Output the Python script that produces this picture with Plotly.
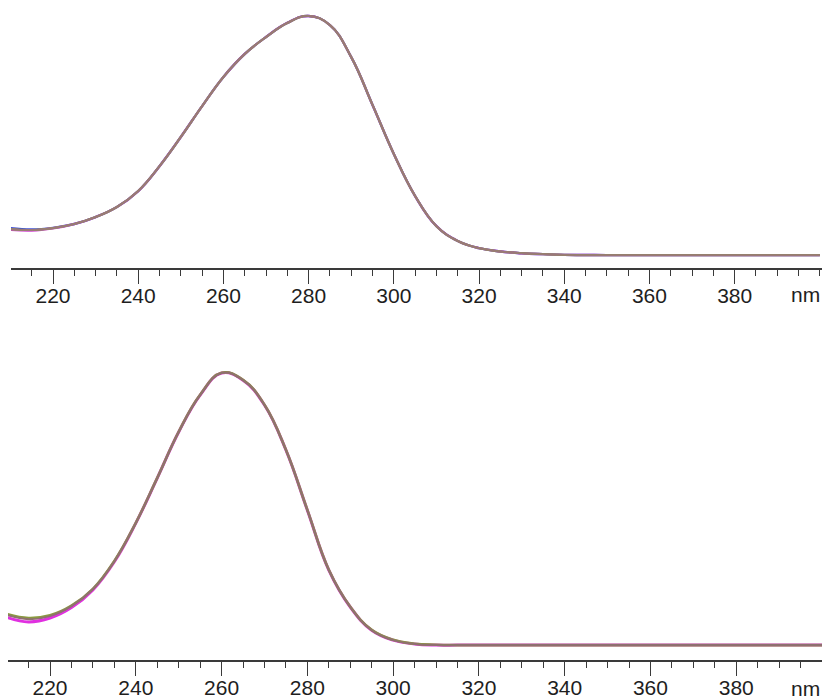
import plotly.graph_objects as go

# Wavelengths (nm)
wavelength = [210, 215, 220, 225, 230, 235, 240, 245, 250, 255, 260, 265, 270, 275,
              280, 285, 290, 295, 300, 305, 310, 315, 320, 325, 330, 335, 340, 350,
              360, 370, 380, 390, 400]

# Upper spectrum (absorbance, normalised)
top_main = [0.109, 0.105, 0.113, 0.130, 0.159, 0.201, 0.268, 0.372, 0.494, 0.623, 0.745,
            0.841, 0.912, 0.971, 1.000, 0.962, 0.828, 0.628, 0.423, 0.247, 0.121, 0.059,
            0.029, 0.015, 0.008, 0.004, 0.001, 0.000, 0.000, 0.000, 0.000, 0.000, 0.000]
top_blue = [0.113, 0.107, 0.114, 0.130, 0.159, 0.201, 0.268, 0.372, 0.494, 0.623, 0.745,
            0.841, 0.912, 0.971, 1.000, 0.962, 0.828, 0.628, 0.423, 0.247, 0.121, 0.059,
            0.029, 0.015, 0.008, 0.004, 0.001, 0.000, 0.000, 0.000, 0.000, 0.000, 0.000]
top_magenta = [0.106, 0.103, 0.112, 0.130, 0.159, 0.201, 0.268, 0.372, 0.494, 0.623, 0.745,
               0.841, 0.912, 0.971, 1.000, 0.962, 0.828, 0.628, 0.423, 0.247, 0.121, 0.059,
               0.029, 0.015, 0.008, 0.004, 0.001, 0.000, 0.000, 0.000, 0.000, 0.000, 0.000]

# Lower spectrum (absorbance, normalised)
bottom_main = [0.109, 0.094, 0.105, 0.141, 0.203, 0.304, 0.442, 0.605, 0.772, 0.906, 0.986,
               0.960, 0.870, 0.707, 0.489, 0.272, 0.138, 0.054, 0.018, 0.004, 0.000, 0.000,
               0.000, 0.000, 0.000, 0.000, 0.000, 0.000, 0.000, 0.000, 0.000, 0.000, 0.000]
bottom_magenta = [0.100, 0.084, 0.098, 0.136, 0.200, 0.302, 0.442, 0.605, 0.772, 0.906, 0.986,
                  0.960, 0.870, 0.707, 0.489, 0.272, 0.138, 0.054, 0.018, 0.004, 0.000, 0.000,
                  0.000, 0.000, 0.000, 0.000, 0.000, 0.000, 0.000, 0.000, 0.000, 0.000, 0.000]
bottom_green = [0.112, 0.098, 0.108, 0.143, 0.204, 0.305, 0.443, 0.606, 0.773, 0.907, 0.987,
                0.961, 0.871, 0.708, 0.490, 0.273, 0.139, 0.055, 0.019, 0.005, 0.001, 0.000,
                0.000, 0.000, 0.000, 0.000, 0.000, 0.000, 0.000, 0.000, 0.000, 0.000, 0.000]

tick_vals = [220, 240, 260, 280, 300, 320, 340, 360, 380]
tick_text = ["220", "240", "260", "280", "300", "320", "340", "360", "380"]

FONT = "Liberation Sans, Arial, sans-serif"
AXIS_COLOR = "#3a3a3a"

fig = go.Figure()

def add(x, y, color, width, xa, ya):
    fig.add_trace(go.Scatter(x=x, y=y, mode="lines", xaxis=xa, yaxis=ya,
                             line=dict(color=color, width=width, shape="spline", smoothing=1.2),
                             showlegend=False, hoverinfo="skip"))

# top panel
add(wavelength, top_blue, "#4050d8", 2.4, "x", "y")
add(wavelength, top_magenta, "#d040d0", 2.4, "x", "y")
add(wavelength, top_main, "#8a9a50", 2.2, "x", "y")
add(wavelength, top_main, "#9a7878", 1.8, "x", "y")

# bottom panel
add(wavelength, bottom_magenta, "#e030e0", 3.0, "x2", "y2")
add(wavelength, bottom_green, "#8a9a40", 2.6, "x2", "y2")
add(wavelength, bottom_main, "#8f7070", 2.0, "x2", "y2")

W, H = 822, 698

def xaxis_cfg(left_px, rng):
    return dict(
        domain=[left_px / W, 1], range=rng, showline=True, linecolor=AXIS_COLOR, linewidth=1.5,
        showgrid=False, zeroline=False, ticks="outside", ticklen=14, tickwidth=1.2,
        tickcolor=AXIS_COLOR, tickmode="array", tickvals=tick_vals, ticktext=tick_text,
        tickfont=dict(family=FONT, size=21, color="#1e1e1e"), automargin=False,
        ticklabelstandoff=-6,
        minor=dict(tickmode="linear", tick0=0, dtick=5, ticks="outside", ticklen=6,
                   tickwidth=1.2, tickcolor=AXIS_COLOR, showgrid=False),
        fixedrange=True,
    )

fig.update_layout(
    width=W, height=H, margin=dict(l=0, r=0, t=0, b=0, autoexpand=False),
    paper_bgcolor="white", plot_bgcolor="white",
    xaxis=dict(xaxis_cfg(11, [210.14, 400.5]), anchor="y"),
    yaxis=dict(domain=[1 - 268 / H, 1 - 10 / H], range=[-0.054, 1.025], visible=False),
    xaxis2=dict(xaxis_cfg(8, [210.2, 400.0]), anchor="y2"),
    yaxis2=dict(domain=[1 - 660 / H, 1 - 360 / H], range=[-0.054, 1.033], visible=False),
    annotations=[
        dict(text="nm", xref="paper", yref="paper", x=805 / W, y=1 - 294 / H,
             showarrow=False, xanchor="center", yanchor="middle",
             font=dict(family=FONT, size=21, color="#1e1e1e")),
        dict(text="nm", xref="paper", yref="paper", x=805 / W, y=1 - 688 / H,
             showarrow=False, xanchor="center", yanchor="middle",
             font=dict(family=FONT, size=21, color="#1e1e1e")),
    ],
)

fig.write_html("out.html")
